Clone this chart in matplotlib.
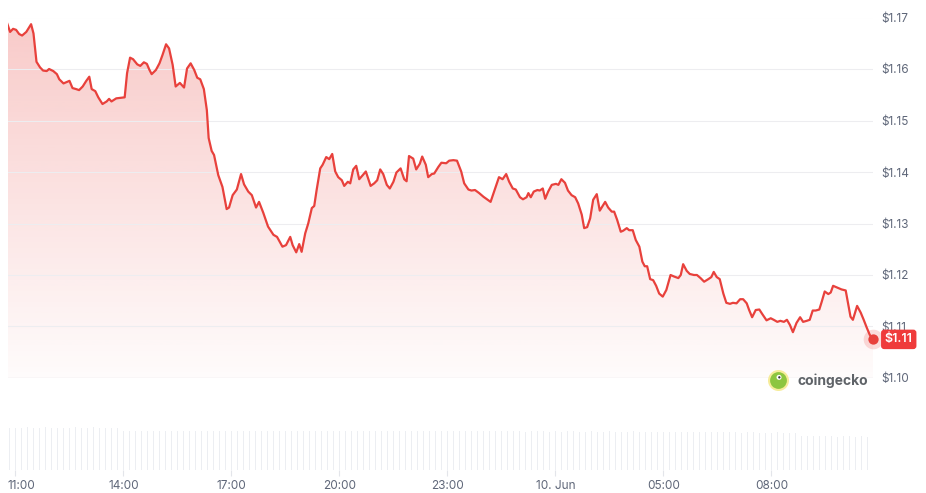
import numpy as np
import matplotlib
matplotlib.use("Agg")
import matplotlib.pyplot as plt
from matplotlib import transforms
from matplotlib.patches import Circle, PathPatch
from matplotlib.colors import to_rgb

plt.rcParams['font.family'] = ['Inter', 'DejaVu Sans']

# minutes after 11:00 (9 Jun) and price in USD
minutes = [-14, -9, -4, 1, 6, 11, 18, 26, 30, 35, 41, 46, 52, 56, 63, 69, 73, 80, 84, 90,
           95, 101, 106, 112, 118, 123, 127, 133, 138, 145, 152, 156, 160, 168, 175, 182, 186, 191, 196, 203,
           208, 214, 219, 223, 227, 234, 240, 245, 251, 256, 262, 267, 274, 281, 286, 292, 298, 303, 308, 314,
           319, 322, 327, 331, 338, 345, 352, 356, 362, 369, 376, 381, 388, 394, 401, 406, 413, 421, 430, 436,
           445, 451, 458, 462, 468, 473, 477, 483, 488, 494, 498, 502, 508, 512, 518, 523, 528, 533, 538, 544,
           548, 554, 558, 563, 568, 573, 579, 584, 592, 598, 603, 608, 613, 619, 624, 630, 635, 642, 648, 652,
           656, 663, 668, 674, 678, 684, 688, 694, 698, 705, 710, 718, 723, 730, 736, 743, 748, 755, 760, 766,
           773, 780, 786, 792, 799, 806, 812, 818, 823, 829, 834, 841, 846, 852, 855, 859, 864, 870, 874, 879,
           883, 888, 894, 901, 905, 910, 916, 921, 927, 933, 938, 944, 948, 953, 958, 963, 969, 974, 983, 988,
           994, 998, 1003, 1009, 1013, 1019, 1023, 1029, 1034, 1040, 1045, 1049, 1053, 1058, 1063, 1068, 1073, 1079, 1085, 1092,
           1098, 1105, 1109, 1113, 1119, 1124, 1131, 1136, 1142, 1148, 1155, 1160, 1164, 1169, 1174, 1180, 1185, 1191, 1196, 1202,
           1208, 1213, 1219, 1223, 1228, 1234, 1240, 1245, 1252, 1259, 1264, 1270, 1275, 1281, 1286, 1291, 1296, 1302, 1308, 1313,
           1319, 1324, 1329, 1334, 1340, 1344, 1349, 1355, 1359, 1363, 1369, 1377, 1384, 1388, 1392, 1396, 1403, 1409, 1414, 1419,
           1424, 1430]
price = [1.1689, 1.1672, 1.1678, 1.1676, 1.1668, 1.1665, 1.1672, 1.1687, 1.1669, 1.1614, 1.1603, 1.1597, 1.1596, 1.1600, 1.1596, 1.1590, 1.1580, 1.1572, 1.1574, 1.1577,
         1.1563, 1.1561, 1.1559, 1.1566, 1.1577, 1.1585, 1.1561, 1.1557, 1.1545, 1.1532, 1.1537, 1.1542, 1.1537, 1.1543, 1.1544, 1.1545, 1.1592, 1.1622, 1.1619, 1.1609,
         1.1606, 1.1613, 1.1610, 1.1599, 1.1590, 1.1598, 1.1611, 1.1627, 1.1648, 1.1640, 1.1608, 1.1566, 1.1573, 1.1564, 1.1601, 1.1611, 1.1598, 1.1583, 1.1580, 1.1561,
         1.1520, 1.1466, 1.1441, 1.1433, 1.1394, 1.1371, 1.1328, 1.1331, 1.1355, 1.1366, 1.1396, 1.1376, 1.1362, 1.1355, 1.1331, 1.1342, 1.1321, 1.1294, 1.1278, 1.1274,
         1.1255, 1.1258, 1.1274, 1.1258, 1.1244, 1.1260, 1.1245, 1.1281, 1.1300, 1.1330, 1.1334, 1.1365, 1.1407, 1.1414, 1.1429, 1.1425, 1.1435, 1.1401, 1.1390, 1.1384,
         1.1373, 1.1381, 1.1378, 1.1405, 1.1412, 1.1386, 1.1394, 1.1401, 1.1373, 1.1378, 1.1384, 1.1405, 1.1396, 1.1375, 1.1368, 1.1381, 1.1399, 1.1407, 1.1386, 1.1382,
         1.1431, 1.1426, 1.1405, 1.1416, 1.1430, 1.1414, 1.1390, 1.1396, 1.1397, 1.1410, 1.1418, 1.1417, 1.1422, 1.1423, 1.1422, 1.1401, 1.1378, 1.1366, 1.1364, 1.1365,
         1.1359, 1.1352, 1.1347, 1.1342, 1.1366, 1.1390, 1.1386, 1.1396, 1.1381, 1.1368, 1.1366, 1.1351, 1.1347, 1.1351, 1.1359, 1.1351, 1.1362, 1.1365, 1.1364, 1.1368,
         1.1348, 1.1362, 1.1375, 1.1377, 1.1375, 1.1386, 1.1379, 1.1364, 1.1355, 1.1351, 1.1339, 1.1317, 1.1291, 1.1293, 1.1310, 1.1346, 1.1357, 1.1325, 1.1342, 1.1331,
         1.1323, 1.1323, 1.1307, 1.1284, 1.1286, 1.1291, 1.1287, 1.1287, 1.1268, 1.1255, 1.1226, 1.1217, 1.1217, 1.1192, 1.1190, 1.1179, 1.1164, 1.1158, 1.1171, 1.1200,
         1.1197, 1.1194, 1.1200, 1.1221, 1.1208, 1.1202, 1.1200, 1.1200, 1.1194, 1.1187, 1.1192, 1.1196, 1.1206, 1.1196, 1.1192, 1.1164, 1.1146, 1.1144, 1.1146, 1.1145,
         1.1153, 1.1153, 1.1145, 1.1132, 1.1118, 1.1132, 1.1133, 1.1124, 1.1112, 1.1116, 1.1113, 1.1109, 1.1111, 1.1109, 1.1113, 1.1103, 1.1089, 1.1107, 1.1118, 1.1109,
         1.1111, 1.1113, 1.1131, 1.1131, 1.1133, 1.1148, 1.1168, 1.1163, 1.1166, 1.1179, 1.1176, 1.1172, 1.1170, 1.1145, 1.1119, 1.1113, 1.1140, 1.1127, 1.1113, 1.1098,
         1.1084, 1.1075]

# trading volume bars, every 10 minutes (arbitrary units)
vol_minutes = list(range(-10, 1431, 10))
volume = [211, 212, 210, 213, 212, 211, 213, 212, 210, 212, 211, 213,
          212, 211, 213, 212, 210, 212, 211, 196, 195, 194, 196, 195,
          194, 195, 196, 194, 195, 193, 195, 196, 194, 195, 194, 196,
          195, 194, 193, 195, 194, 196, 195, 194, 195, 193, 194, 195,
          194, 195, 193, 194, 195, 194, 193, 195, 194, 193, 194, 195,
          194, 193, 195, 194, 193, 194, 195, 193, 194, 195, 193, 194,
          193, 194, 195, 193, 194, 196, 197, 196, 195, 194, 193, 194,
          194, 193, 192, 193, 194, 193, 192, 193, 192, 194, 193, 192,
          192, 193, 191, 192, 193, 192, 191, 192, 193, 191, 192, 191,
          191, 190, 192, 191, 190, 189, 191, 190, 189, 190, 188, 189,
          189, 188, 187, 188, 189, 187, 186, 187, 188, 186, 185, 186,
          170, 169, 168, 170, 169, 168, 167, 169, 168, 167, 168, 167, 166]

tick_minutes = [0, 180, 360, 540, 720, 900, 1080, 1260]
tick_labels = ['11:00', '14:00', '17:00', '20:00', '23:00', '10. Jun', '05:00', '08:00']
y_ticks = [1.10, 1.11, 1.12, 1.13, 1.14, 1.15, 1.16, 1.17]

RED = '#e8413c'
GREY_TXT = '#5f6779'
W, H = 926, 493
XMIN, XMAX = -12.5, 1429.5

fig = plt.figure(figsize=(W / 100, H / 100), dpi=100)
ax = fig.add_axes([8 / W, (H - 378) / H, 865 / W, 360.5 / H])
ax.set_xlim(XMIN, XMAX)
ax.set_ylim(1.10, 1.17)

# gradient area under the line
poly = ax.fill_between(minutes, price, 1.10, facecolor='none', edgecolor='none')
grad = np.zeros((256, 1, 4))
grad[..., :3] = to_rgb(RED)
grad[..., 3] = np.linspace(0.28, 0.02, 256).reshape(-1, 1)
im = ax.imshow(grad, extent=[XMIN, XMAX, 1.10, 1.17], aspect='auto', origin='upper', zorder=1)
clip = PathPatch(poly.get_paths()[0], transform=ax.transData, facecolor='none', edgecolor='none')
ax.add_patch(clip)
im.set_clip_path(clip)

ax.plot(minutes, price, color=RED, lw=1.6, zorder=3, solid_joinstyle='round')

# last price marker
ax.scatter([minutes[-1]], [price[-1]], s=200, color=RED, alpha=0.18, zorder=4, clip_on=False, linewidths=0)
ax.scatter([minutes[-1]], [price[-1]], s=55, color=RED, zorder=5, clip_on=False, linewidths=0)

ax.set_yticks(y_ticks)
ax.set_yticklabels([f'${v:.2f}' for v in y_ticks])
ax.yaxis.tick_right()
ax.tick_params(axis='y', length=0, pad=6, labelsize=8.5, labelcolor=GREY_TXT)
ax.set_xticks([])
ax.grid(axis='y', color='#ededf0', lw=0.8, zorder=0)
for s in ax.spines.values():
    s.set_visible(False)
ax.axhline(1.10, color='#e9e9ee', lw=1.0, zorder=2)

# price badge
ax.annotate(f'${price[-1]:.2f}', xy=(1, price[-1]), xycoords=('axes fraction', 'data'),
            xytext=(8.5, 0), textcoords='offset points', ha='left', va='center',
            color='white', fontsize=9, fontweight='semibold', zorder=6,
            bbox=dict(boxstyle='round,pad=0.3,rounding_size=0.25', fc='#ef3b3b', ec='none'),
            annotation_clip=False)

# watermark
lax = fig.add_axes([768 / W, (H - 391) / H, 21 / W, 21 / H])
lax.set_xlim(-1, 1)
lax.set_ylim(-1, 1)
lax.axis('off')
lax.add_patch(Circle((0, 0), 1.0, fc='#f6ec9a', ec='none'))
lax.add_patch(Circle((0, 0), 0.8, fc='#8dc63f', ec='none'))
lax.add_patch(Circle((0.05, 0.3), 0.24, fc='white', ec='none'))
lax.add_patch(Circle((0.08, 0.3), 0.11, fc='#333333', ec='none'))
fig.text(797 / W, 1 - 381 / H, 'coingecko', fontsize=10, fontweight='bold',
         color='#5f6368', va='center', ha='left')

# volume panel
vax = fig.add_axes([8 / W, (H - 470) / H, 865 / W, 45 / H])
vax.bar(vol_minutes, volume, width=2.2, color='#eceef2', linewidth=0)
vax.set_xlim(XMIN, XMAX)
vax.set_ylim(0, 225)
vax.set_yticks([])
vax.set_xticks(tick_minutes)
vax.set_xticklabels(tick_labels)
vax.tick_params(axis='x', length=4, width=0.8, color='#e3e5ea', pad=3,
                labelsize=8.5, labelcolor=GREY_TXT)
for s in vax.spines.values():
    s.set_visible(False)
first = vax.get_xticklabels()[0]
first.set_transform(first.get_transform() + transforms.ScaledTranslation(0.06, 0, fig.dpi_scale_trans))

fig.savefig('out.png', dpi=100, facecolor='white')
